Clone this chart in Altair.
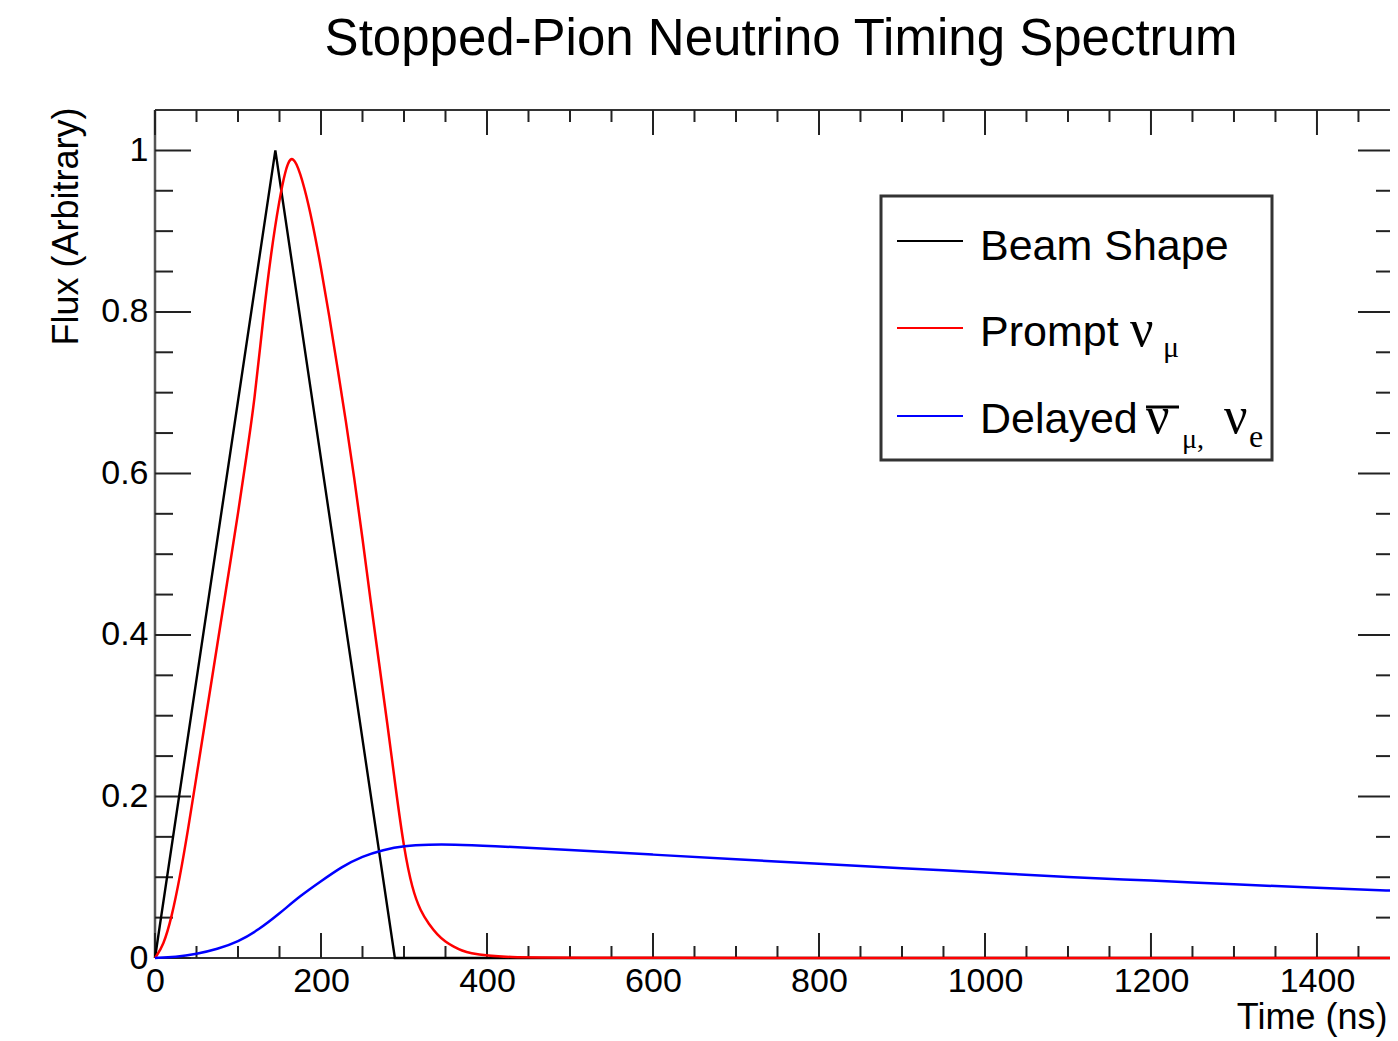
import altair as alt
import pandas as pd

# ---------------- data ----------------
beam_t = [0, 145, 289, 1500]
beam_y = [0.0, 1.0, 0.0, 0.0]

prompt_t = [0, 10, 20, 30, 40, 50, 60, 70, 80, 90, 100, 110, 120, 130, 140, 150, 157,
            163, 170, 180, 190, 200, 210, 220, 230, 240, 250, 260, 270, 280, 290, 300,
            310, 320, 330, 340, 350, 360, 370, 380, 400, 430, 460, 1500]
prompt_y = [0.0, 0.015, 0.05, 0.1, 0.16, 0.225, 0.29, 0.355, 0.42, 0.485, 0.55, 0.62,
            0.69, 0.79, 0.875, 0.94, 0.975, 0.992, 0.987, 0.955, 0.91, 0.855, 0.795,
            0.73, 0.665, 0.595, 0.52, 0.44, 0.365, 0.29, 0.21, 0.135, 0.085, 0.058,
            0.042, 0.029, 0.02, 0.014, 0.009, 0.006, 0.003, 0.001, 0.0, 0.0]

delayed_t = [0, 25, 50, 75, 100, 125, 150, 175, 200, 225, 250, 275, 300, 330, 360,
             400, 500, 600, 700, 800, 900, 1000, 1100, 1200, 1300, 1400, 1500]
delayed_y = [0.0, 0.001, 0.005, 0.011, 0.02, 0.035, 0.055, 0.077, 0.095, 0.113,
             0.126, 0.134, 0.139, 0.1405, 0.1405, 0.139, 0.134, 0.128, 0.122, 0.117,
             0.111, 0.106, 0.1, 0.096, 0.091, 0.087, 0.083]

x_major = [0, 200, 400, 600, 800, 1000, 1200, 1400]
x_minor = [v for v in range(50, 1500, 50) if v % 200 != 0]
y_major = [0, 0.2, 0.4, 0.6, 0.8, 1.0]
y_minor = [0.05, 0.1, 0.15, 0.25, 0.3, 0.35, 0.45, 0.5, 0.55, 0.65, 0.7, 0.75,
           0.85, 0.9, 0.95]

title_text = "Stopped-Pion Neutrino Timing Spectrum"
x_title = "Time (ns)"
y_title = "Flux (Arbitrary)"

# ---------------- chart ----------------
W, H = 1235, 848
SANS = "Liberation Sans"
SERIF = "Liberation Serif"
INK = "#222222"
FRAME = "#333333"

xscale = alt.Scale(domain=[0, 1488], nice=False, zero=False)
yscale = alt.Scale(domain=[0, 1.05], nice=False, zero=False)
one = pd.DataFrame({"k": [0]})

XAX = alt.Axis(values=x_major, format="d", ticks=False, domain=False, grid=False,
               labelFont=SANS, labelFontSize=34, labelColor="#000",
               labelPadding=6, labelFlush=False, labelOverlap=False,
               title=x_title, titleFont=SANS, titleFontSize=36,
               titleFontWeight="normal", titleColor="#000",
               titleAlign="right", titleBaseline="alphabetic",
               titleX=W - 3, titleY=70)
YAX = alt.Axis(values=y_major, format="~g", ticks=False, domain=False, grid=False,
               labelFont=SANS, labelFontSize=34, labelColor="#000",
               labelPadding=7, labelFlush=False, labelOverlap=False,
               title=y_title, titleFont=SANS, titleFontSize=36,
               titleFontWeight="normal", titleColor="#000",
               titleAngle=270, titleAlign="right", titleBaseline="alphabetic",
               titleX=-78, titleY=-3)


def X(field):
    return alt.X(field, scale=xscale, axis=XAX)


def Y(field):
    return alt.Y(field, scale=yscale, axis=YAX)


def line(t, y, color, width, interp):
    df = pd.DataFrame({"t": t, "flux": y})
    return alt.Chart(df).mark_line(color=color, strokeWidth=width, interpolate=interp).encode(
        x=X("t:Q"), y=Y("flux:Q"))


def xticks(vals, length):
    df = pd.DataFrame({"v": vals})
    base = alt.Chart(df).mark_rule(color=INK, strokeWidth=2)
    return [
        base.encode(x=X("v:Q"), y=alt.value(H), y2=alt.value(H - length)),
        base.encode(x=X("v:Q"), y=alt.value(0), y2=alt.value(length)),
    ]


def yticks(vals, length):
    df = pd.DataFrame({"v": vals})
    base = alt.Chart(df).mark_rule(color=INK, strokeWidth=2)
    return [
        base.encode(y=Y("v:Q"), x=alt.value(0), x2=alt.value(length)),
        base.encode(y=Y("v:Q"), x=alt.value(W + 4), x2=alt.value(W + 4 - length)),
    ]


def txt(s, x, y, size, font=SANS, align="left"):
    return alt.Chart(one).mark_text(text=s, font=font, fontSize=size, align=align,
                                    baseline="alphabetic", color="#000").encode(
        x=alt.value(x), y=alt.value(y))


def hseg(x1, x2, y, color, width):
    return alt.Chart(one).mark_rule(color=color, strokeWidth=width).encode(
        x=alt.value(x1), x2=alt.value(x2), y=alt.value(y))


def vseg(x, y1, y2, color, width):
    return alt.Chart(one).mark_rule(color=color, strokeWidth=width).encode(
        x=alt.value(x), y=alt.value(y1), y2=alt.value(y2))


layers = []
# frame (right side is cut off, as in the reference)
layers.append(vseg(0, 0, H, "#555555", 2.5))
layers.append(hseg(0, W + 10, 0, FRAME, 2))
layers.append(hseg(0, W + 10, H, FRAME, 2))
layers += xticks(x_major, 25)
layers += xticks(x_minor, 12)
layers += yticks(y_major, 36)
layers += yticks(y_minor, 18)

layers.append(line(beam_t, beam_y, "#000000", 2.4, "linear"))
layers.append(line(prompt_t, prompt_y, "#ff0000", 2.5, "basis"))
layers.append(line(delayed_t, delayed_y, "#0000ff", 2.5, "basis"))

# chart title
layers.append(txt(title_text, 626, -55, 51, align="center"))

# legend box
layers.append(alt.Chart(one).mark_rect(fill="white", stroke="#333333", strokeWidth=3).encode(
    x=alt.value(726), x2=alt.value(1117), y=alt.value(86), y2=alt.value(350)))
layers.append(hseg(742, 808, 131, "#000000", 2))
layers.append(hseg(742, 808, 218, "#ff0000", 2))
layers.append(hseg(742, 808, 306, "#0000ff", 2))
layers.append(txt("Beam Shape", 825, 150, 43))
layers.append(txt("Prompt", 825, 236, 43))
layers.append(txt("ν", 975, 236, 52, font=SERIF))
layers.append(txt("μ", 1008, 247, 30, font=SERIF))
layers.append(txt("Delayed", 825, 323, 43))
layers.append(txt("ν", 991, 323, 52, font=SERIF))
layers.append(hseg(991, 1024, 297, "#000000", 3))
layers.append(txt("μ,", 1027, 338, 28, font=SERIF))
layers.append(txt("ν", 1069, 323, 52, font=SERIF))
layers.append(txt("e", 1094, 337, 32, font=SERIF))

chart = alt.layer(*layers).properties(
    width=W, height=H,
    padding={"left": 147, "top": 102, "right": 0, "bottom": 80},
    autosize=alt.AutoSizeParams(type="none"),
    background="white",
).configure_view(stroke=None)

chart.save("out.html", embed_options={"renderer": "svg", "actions": False})
